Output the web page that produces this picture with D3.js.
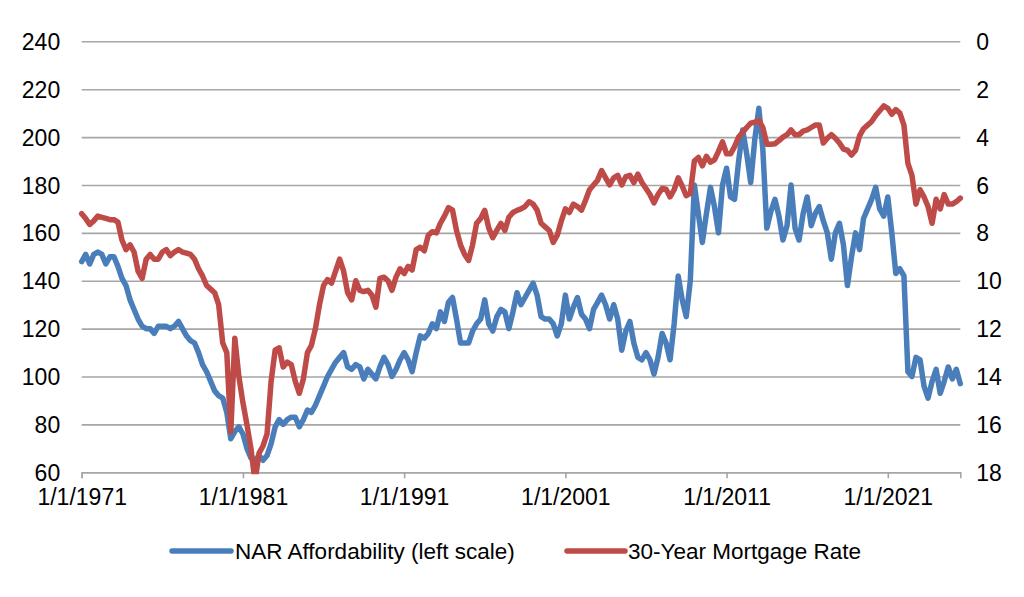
<!DOCTYPE html>
<html><head><meta charset="utf-8">
<script src="https://cdn.jsdelivr.net/npm/d3@7"></script>
<style>
body{margin:0;background:#fff}
text{font-family:"Liberation Sans",Arial,sans-serif;fill:#000}
</style>
</head><body>
<svg id="chart" width="1024" height="597"></svg>
<script>
// Quarterly observations starting January 1971
const startYear = 1971;
const affordability = [
148,151,147,151, 152,151,147,150, 150,146,141,138, 132,128,124,121, 120,120,118,121,
121,121,120,121, 123,120,117,115, 114,110,105,102, 98,94,92,91, 85,74,77,79,
76,70,66,65, 67,65,67,72, 79,82,80,82, 83,83,79,82, 86,85,88,92,
96,100,103,106, 108,110,104,103, 105,104,99,103, 101,99,104,108, 105,100,103,107,
110,107,102,110, 117,116,118,122, 120,127,123,131, 133,124,114,114, 114,119,122,124,
132,122,119,125, 128,127,120,127, 135,130,133,136, 139,134,125,124, 124,122,117,122,
134,124,129,133, 126,124,120,128, 131,134,130,124, 130,124,111,119, 123,114,108,107,
110,107,101,108, 118,114,107,122, 142,132,125,140, 180,168,156,168, 179,171,160,180,
187,175,174,190, 203,193,181,199, 212,195,162,169, 174,167,157,163, 180,162,157,168,
175,163,168,171, 165,160,149,160, 164,155,138,150, 160,153,166,170, 174,179,170,167,
175,160,143,145, 142,102,100,108, 107,96,91,98, 103,93,98,104, 99,103,97
];
const mortgageRate = [
7.2,7.4,7.65,7.5, 7.3,7.35,7.4,7.45, 7.45,7.55,8.3,8.7, 8.5,8.8,9.6,9.9, 9.1,8.9,9.1,9.1,
8.8,8.7,8.95,8.8, 8.7,8.8,8.85,8.9, 9.1,9.5,9.8,10.2, 10.35,10.5,11.0,12.6, 13.0,16.3,12.4,14.0,
15.1,16.0,17.0,18.4, 17.2,16.9,16.4,14.2, 12.9,12.8,13.6,13.4, 13.5,14.2,14.7,14.1, 13.0,12.7,12.0,11.0,
10.2,9.95,10.1,9.6, 9.1,9.6,10.5,10.8, 10.0,10.4,10.45,10.4, 10.6,11.1,9.9,9.85, 10.0,10.4,9.85,9.5,
9.7,9.4,9.55,8.7, 8.6,8.75,8.1,7.95, 8.0,7.6,7.3,6.95, 7.05,7.9,8.5,8.9, 9.15,8.5,7.6,7.4,
7.06,7.8,8.2,7.9, 7.6,7.9,7.35,7.15, 7.06,7.0,6.9,6.7, 6.8,7.05,7.6,7.75, 7.9,8.4,8.1,7.5,
7.0,7.15,6.8,6.9, 7.05,6.65,6.2,6.0, 5.8,5.4,5.7,6.0, 5.7,5.6,6.0,5.65, 5.6,5.9,5.55,5.9,
6.15,6.4,6.75,6.4, 6.15,6.18,6.5,6.2, 5.7,6.05,6.45,6.35, 5.0,4.85,5.2,4.8, 5.05,4.95,4.6,4.2,
4.7,4.7,4.4,4.0, 3.8,3.6,3.42,3.38, 3.3,3.6,4.3,4.3, 4.28,4.15,4.0,3.9, 3.7,3.9,3.9,3.75,
3.7,3.6,3.5,3.5, 4.25,4.05,3.9,4.05, 4.25,4.5,4.55,4.75, 4.55,3.95,3.65,3.5, 3.35,3.1,2.9,2.7,
2.8,3.05,2.85,3.0, 3.5,5.1,5.6,6.8, 6.2,6.5,6.9,7.6, 6.6,7.0,6.4,6.8, 6.8,6.7,6.55
];
const leftTicks = [60,80,100,120,140,160,180,200,220,240];
const rightTicks = [0,2,4,6,8,10,12,14,16,18];
const xTickYears = [1971,1981,1991,2001,2011,2021];
const seriesNames = ["NAR Affordability (left scale)","30-Year Mortgage Rate"];
const colors = ["#4a7ebb","#be4b48"];

const dates = affordability.map((_, i) => new Date(startYear, i * 3, 1));

const L = 81.7, R = 960.3, T = 41.3, B = 472.3;
const svg = d3.select("#chart");
const FONT = "Liberation Sans, Arial, sans-serif";
const AX = 23;

const x = d3.scaleTime().domain(d3.extent(dates)).range([L, R]);
const yL = d3.scaleLinear().domain([60, 240]).range([B, T]);
const yR = d3.scaleLinear().domain([18, 0]).range([B, T]);

const grid = "#a6a6a6";

// left axis with gridlines
const gl = svg.append("g").attr("transform", `translate(${L},0)`)
  .call(d3.axisLeft(yL).tickValues(leftTicks).tickSize(-(R - L)).tickPadding(21.5));
gl.select(".domain").remove();
gl.selectAll(".tick line").attr("stroke", grid).attr("stroke-width", 1.6);
gl.selectAll(".tick text").attr("font-size", AX).attr("font-family", FONT).attr("dy", "0.35em");

// right axis
const gr = svg.append("g").attr("transform", `translate(${R},0)`)
  .call(d3.axisRight(yR).tickValues(rightTicks).tickSize(0).tickPadding(16));
gr.select(".domain").remove();
gr.selectAll(".tick text").attr("font-size", AX).attr("font-family", FONT).attr("dy", "0.35em");

// bottom axis
const gb = svg.append("g").attr("transform", `translate(0,${B})`)
  .call(d3.axisBottom(x).tickValues(xTickYears.map(yy => new Date(yy, 0, 1)))
    .tickSize(6).tickPadding(10).tickFormat(d => `1/1/${d.getFullYear()}`));
gb.select(".domain").attr("stroke", grid).attr("stroke-width", 1.6);
gb.selectAll(".tick line").attr("stroke", grid).attr("stroke-width", 1.6);
gb.selectAll(".tick text").attr("font-size", AX).attr("font-family", FONT);

// clip
svg.append("clipPath").attr("id", "plot").append("rect")
  .attr("x", 0).attr("y", T - 5).attr("width", 1024).attr("height", B - T + 7);

const lineL = d3.line().x((d, i) => x(dates[i])).y(d => yL(d));
const lineR = d3.line().x((d, i) => x(dates[i])).y(d => yR(d));

const lines = svg.append("g").attr("clip-path", "url(#plot)");
lines.append("path").datum(affordability).attr("d", lineL)
  .attr("fill", "none").attr("stroke", colors[0]).attr("stroke-width", 5.5)
  .attr("stroke-linejoin", "round").attr("stroke-linecap", "round");
lines.append("path").datum(mortgageRate).attr("d", lineR)
  .attr("fill", "none").attr("stroke", colors[1]).attr("stroke-width", 5.5)
  .attr("stroke-linejoin", "round").attr("stroke-linecap", "round");

// legend
const legendItems = [{x1: 172, x2: 231, tx: 235}, {x1: 567, x2: 625, tx: 628}];
const lg = svg.append("g");
seriesNames.forEach((name, i) => {
  const it = legendItems[i];
  lg.append("line").attr("x1", it.x1).attr("x2", it.x2).attr("y1", 551).attr("y2", 551)
    .attr("stroke", colors[i]).attr("stroke-width", 5.5).attr("stroke-linecap", "round");
  lg.append("text").attr("x", it.tx).attr("y", 551).attr("dy", "0.35em")
    .attr("font-size", 22.5).attr("font-family", FONT).text(name);
});
</script>
</body></html>
